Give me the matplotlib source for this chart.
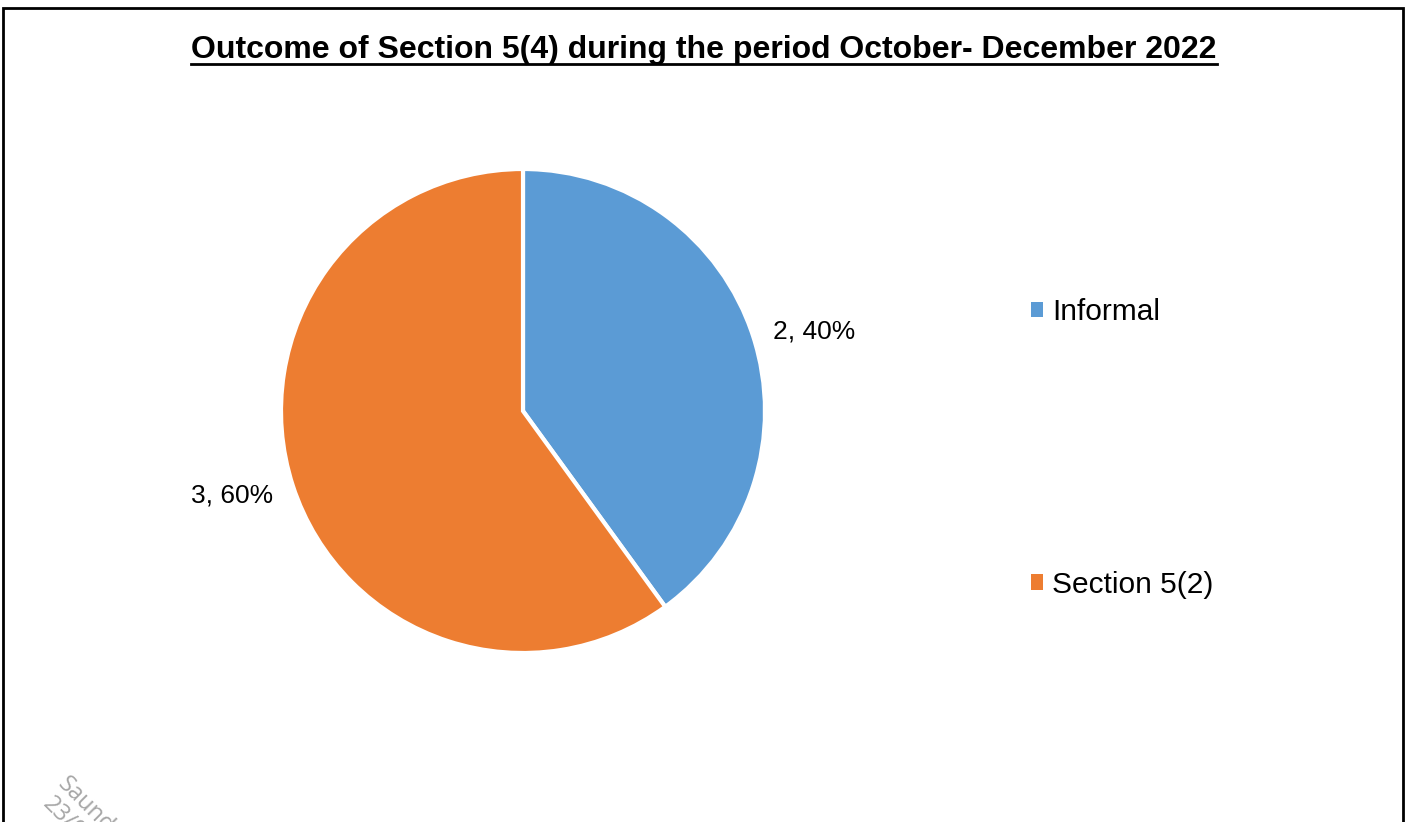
from matplotlib import pyplot as plt
from matplotlib.patches import Rectangle, Patch
from matplotlib.lines import Line2D
import numpy as np

plt.rcParams['font.family'] = ['Liberation Sans', 'DejaVu Sans']

# data
categories = ["Informal", "Section 5(2)"]
counts = [2, 3]
colors = ["#5B9BD5", "#ED7D31"]
title = "Outcome of Section 5(4) during the period October- December 2022"

W, H = 1407, 822
fig = plt.figure(figsize=(W / 100, H / 100), dpi=100)

# pie axes: centre (523, 411), radius 242 px
lim = 1.3
side = 2 * lim * 242
cx, cy = 523, 411
ax = fig.add_axes([(cx - side / 2) / W, (H - cy - side / 2) / H, side / W, side / H])
wedges, _ = ax.pie(counts, colors=colors, startangle=90, counterclock=False,
                   radius=1, wedgeprops=dict(edgecolor="white", linewidth=3))
ax.set_xlim(-lim, lim)
ax.set_ylim(-lim, lim)
ax.set_aspect("equal")
ax.axis("off")

# data labels "value, pct"
total = sum(counts)
for w, n in zip(wedges, counts):
    mid = np.deg2rad((w.theta1 + w.theta2) / 2)
    ax.text(1.265 * np.cos(mid), 1.1 * np.sin(mid) - 0.01, f"{n}, {n / total:.0%}",
            ha="center", va="center", fontsize=19, color="#000000")

# legend
handles = [Patch(facecolor=c, edgecolor="none") for c in colors]
fig.legend(handles, categories, loc="upper left", bbox_to_anchor=(1016 / W, 1 - 283 / H),
           frameon=False, fontsize=21.5, handlelength=0.42, handleheight=0.42,
           handletextpad=0.3, labelspacing=8.2, borderpad=0)

# title, underlined
t = fig.text(704 / W, 1 - 50 / H, title, ha="center", va="center",
             fontsize=23, fontweight="bold")
fig.canvas.draw()
bb = t.get_window_extent(renderer=fig.canvas.get_renderer())
uy = 1 - 64 / H
fig.add_artist(Line2D([bb.x0 / W, bb.x1 / W], [uy, uy], transform=fig.transFigure,
                      color="black", linewidth=2))

# page border
fig.add_artist(Rectangle((2.5 / W, -0.1), 1400 / W, 1.1 - 8.5 / H, transform=fig.transFigure,
                         fill=False, edgecolor="black", linewidth=2, clip_on=False))

# watermark (cut off at the bottom, as in the source page)
fig.text(70 / W, 1 - 772 / H, "Saund", rotation=-45, rotation_mode="anchor",
         ha="left", va="top", fontsize=17, color="#A6A6A6", family=["Open Sans", "DejaVu Sans"])
fig.text(55 / W, 1 - 792 / H, "23/0", rotation=-45, rotation_mode="anchor",
         ha="left", va="top", fontsize=17, color="#A6A6A6", family=["Open Sans", "DejaVu Sans"])

fig.savefig("out.png", dpi=100)
